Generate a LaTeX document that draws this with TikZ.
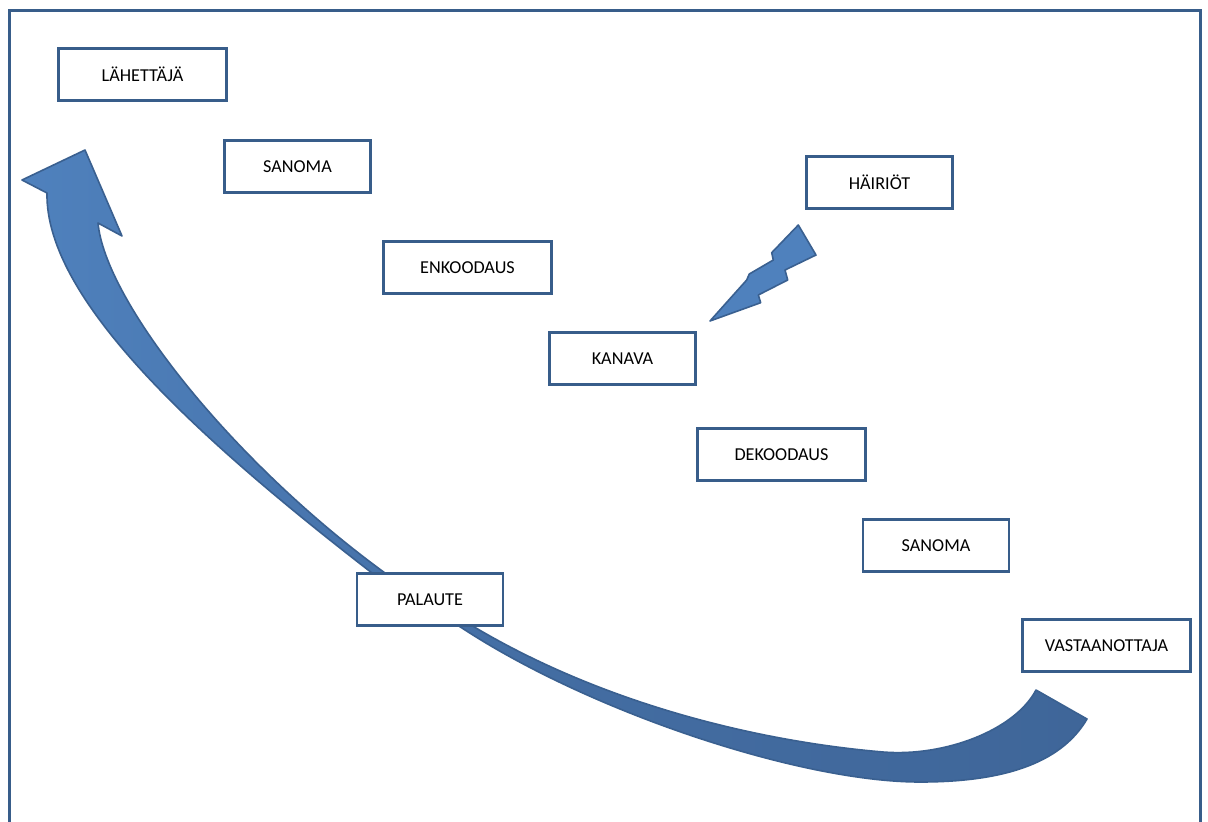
\documentclass[tikz,border=0pt]{standalone}
\usepackage{fontspec}
\setmainfont{Carlito}
\definecolor{boxline}{HTML}{385D8A}
\definecolor{arrowlight}{HTML}{4F81BD}
\definecolor{arrowdark}{HTML}{3F6699}
\definecolor{arrowline}{HTML}{3A6090}
\begin{document}
\begin{tikzpicture}[x=1pt,y=-1pt,
  labelbox/.style={draw=boxline, line width=2.6pt, fill=white, minimum width=168pt, minimum height=52pt, inner sep=0pt, font=\fontsize{18.2}{20}\selectfont},
  narrowbox/.style={labelbox, minimum width=146pt},
  bigarrow/.style={draw=arrowline, line width=1.6pt, line join=round, left color=arrowlight, right color=arrowdark, middle color=arrowdark!75!arrowlight},
  bolt/.style={draw=arrowline, line width=1.6pt, line join=round, fill=arrowlight}]
\useasboundingbox (0,0) rectangle (1208,822);
\fill[white] (0,0) rectangle (1208,822);
% frame (bottom open)
\draw[boxline, line width=3pt] (9.5,830) -- (9.5,10.5) -- (1200.5,10.5) -- (1200.5,830);
% feedback arrow
\path[bigarrow] (85,150) -- (122,236) -- (98,223)
  .. controls (105,300) and (230,460) .. (385,573)
  -- (476,628)
  .. controls (610,707) and (765,742) .. (883,752)
  .. controls (945,757) and (1015,730) .. (1036,690)
  -- (1087,719)
  .. controls (1060,765) and (1000,782) .. (920,782)
  .. controls (800,782) and (590,712) .. (462,628)
  -- (372,573)
  .. controls (200,440) and (45,300) .. (47,193)
  -- (22,180) -- cycle;
% lightning
\path[bolt] (710,321) -- (746.7,280) -- (749.3,274) -- (773.3,260) -- (771.7,252.7) -- (798.3,225) -- (816,255) -- (785,270) -- (787.7,280) -- (758.3,295) -- (760.7,302.7) -- cycle;
% boxes
\node[labelbox]  (sender)   at (142.5,74.5)  {LÄHETTÄJÄ};
\node[narrowbox] (msg1)     at (297.5,166.5) {SANOMA};
\node[labelbox]  (encode)   at (467.5,267.5) {ENKOODAUS};
\node[narrowbox] (channel)  at (622.5,358.5) {KANAVA};
\node[narrowbox] (noise)    at (879.5,182.5) {HÄIRIÖT};
\node[labelbox]  (decode)   at (781.5,454.5) {DEKOODAUS};
\node[narrowbox] (msg2)     at (936,545.5)   {SANOMA};
\node[narrowbox] (feedback) at (430,599.5)   {PALAUTE};
\node[labelbox]  (receiver) at (1106.5,645.5) {VASTAANOTTAJA};
\end{tikzpicture}
\end{document}
